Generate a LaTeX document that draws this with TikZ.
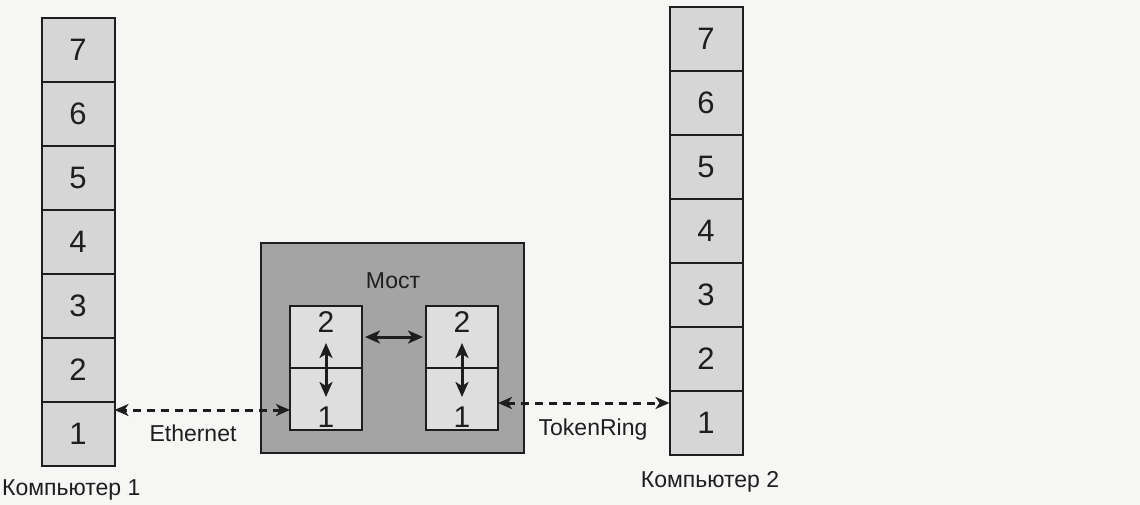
\documentclass[tikz,border=0pt]{standalone}
\usepackage{fontspec}
\setmainfont{Liberation Sans}
\usetikzlibrary{arrows.meta,positioning}

\definecolor{paper}{HTML}{F6F6F4}
\definecolor{ink}{HTML}{1E1E1E}
\definecolor{layerfill}{HTML}{D6D6D6}
\definecolor{bridgefill}{HTML}{A4A4A4}
\definecolor{cellfill}{HTML}{DEDEDE}

\begin{document}
\begin{tikzpicture}[
  x=1pt, y=-1pt,
  font=\fontsize{23}{26}\selectfont,
  color=ink,
  layer/.style={draw=ink, line width=2pt, fill=layerfill, inner sep=0pt,
                outer sep=0pt, minimum width=73pt, minimum height=64pt,
                font=\fontsize{31}{34}\selectfont},
  cell/.style={draw=ink, line width=2pt, fill=cellfill, inner sep=0pt,
               outer sep=0pt, minimum width=72pt, minimum height=62pt},
  digit/.style={inner sep=2pt, font=\fontsize{30}{32}\selectfont},
  dbl/.style={{Stealth[length=15pt,width=13pt,inset=4pt]}-{Stealth[length=15pt,width=13pt,inset=4pt]},
              line width=3pt},
  link/.style={{Stealth[length=14pt,width=12pt,inset=4pt]}-{Stealth[length=14pt,width=12pt,inset=4pt]},
               dash pattern=on 8pt off 6pt, line width=3pt}
]
\useasboundingbox (0,0) rectangle (1140,505);
\fill[paper] (0,0) rectangle (1140,505);

% Computer 1
\node[layer] (a1) at (78,434) {1};
\foreach \i [count=\j from 2] in {1,...,6}
  \node[layer, above=0pt of a\i] (a\j) {\j};
\node[anchor=west, inner sep=1pt] (c1) at (1,490) {Компьютер 1};

% Computer 2
\node[layer] (b1) at (706,423) {1};
\foreach \i [count=\j from 2] in {1,...,6}
  \node[layer, above=0pt of b\i] (b\j) {\j};
\node (c2) at (710,482) {Компьютер 2};

% bridge
\node[draw=ink, line width=2pt, fill=bridgefill, minimum width=263pt,
      minimum height=210pt] (bridge) at (392,348) {};
\node (most) at (393,281) {Мост};

\node[cell] (l2) at (326,337) {};
\node[cell, below=0pt of l2] (l1) {};
\node[cell] (r2) at (462,337) {};
\node[cell, below=0pt of r2] (r1) {};
\node[digit, anchor=north] (l2n) at ([yshift=-3pt]l2.north) {2};
\node[digit, anchor=south] (l1n) at (l1.south) {1};
\node[digit, anchor=north] (r2n) at ([yshift=-3pt]r2.north) {2};
\node[digit, anchor=south] (r1n) at (r1.south) {1};

\draw[dbl] ([yshift=-6pt]l2.center) -- ([yshift=2pt]l1.center);
\draw[dbl] ([yshift=-6pt]r2.center) -- ([yshift=2pt]r1.center);
\draw[dbl] ([xshift=3pt]l2.east) -- ([xshift=-3pt]r2.west);

% networks
\draw[link] ([yshift=-11pt]l1.west) -- ([yshift=-11pt]l1.west -| a1.east);
\draw[link] ([yshift=-4pt]r1.east) -- ([yshift=-4pt]r1.east -| b1.west);
\node (eth) at (193,433) {Ethernet};
\node (tr) at (593,430) {TokenRing};
\end{tikzpicture}
\end{document}
